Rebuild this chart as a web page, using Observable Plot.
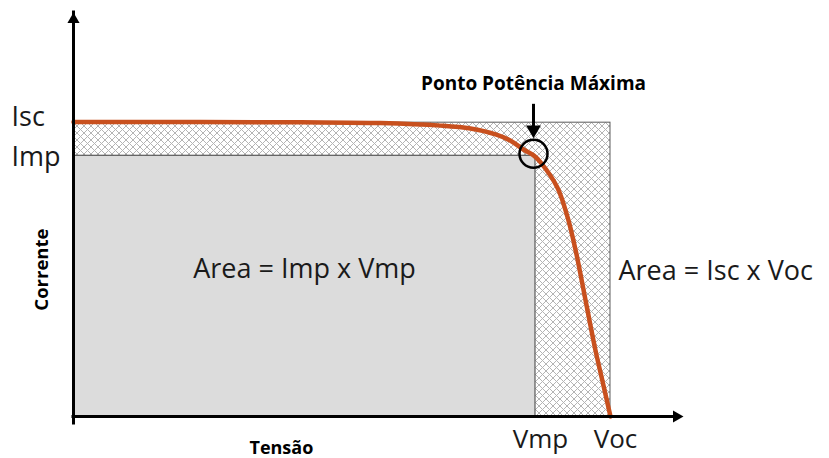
<!DOCTYPE html>
<html>
<head>
<meta charset="utf-8">
<script src="https://cdn.jsdelivr.net/npm/d3@7"></script>
<script src="https://cdn.jsdelivr.net/npm/@observablehq/plot@0.6"></script>
<style>
  html, body { margin: 0; padding: 0; background: white; }
  svg { display: block; }
</style>
</head>
<body>
<div id="chart"></div>
<script>
// Key values of the I-V curve (arbitrary units)
const Voc = 20.05;
const Vmp = 17.25;
const Isc = 8.0;
const Imp = 7.1;

// I-V curve points (voltage, current)
const curveV = [0, 4.74, 8.48, 11.46, 13.7, 14.82, 15.76, 16.32, 16.8, 17.18, 17.44, 18.07, 18.45, 18.75, 19.12, 19.49, 19.79, 20.05];
const curveI = [8.02, 8.02, 8.01, 7.99, 7.92, 7.84, 7.68, 7.51, 7.27, 7.11, 6.92, 6.23, 5.42, 4.52, 3.16, 1.80, 0.84, 0];

// Tick labels
const yTickLabels = ["Isc", "Imp"];
const yTickValues = [Isc, Imp];
const xTickLabels = ["Vmp", "Voc"];
const xTickValues = [Vmp, Voc];

// Text labels
const titleText = "Ponto Potência Máxima";
const xTitle = "Tensão";
const yTitle = "Corrente";
const areaMpText = "Area = Imp x Vmp";
const areaScText = "Area = Isc x Voc";

// Axis extents
const xMax = 23;
const yMax = 11;

const curve = curveV.map((v, i) => ({V: v, I: curveI[i]}));
const yTicks = yTickLabels.map((t, i) => ({t, I: yTickValues[i]}));
const xTicks = xTickLabels.map((t, i) => ({t, V: xTickValues[i]}));

const font = "'Open Sans', 'DejaVu Sans', sans-serif";

const chart = Plot.plot({
  width: 829,
  height: 458,
  marginLeft: 73,
  marginRight: 140,
  marginTop: 12,
  marginBottom: 42,
  x: {domain: [0, xMax], axis: null},
  y: {domain: [0, yMax], axis: null},
  style: {fontFamily: font, background: "white", overflow: "visible"},
  marks: [
    // hatched outer rectangle Isc x Voc
    Plot.rect([{x1: 0, x2: Voc, y1: 0, y2: Isc}], {
      x1: "x1", x2: "x2", y1: "y1", y2: "y2",
      fill: "url(#hatch)", stroke: "#5a5a5a", strokeWidth: 1
    }),
    // grey inner rectangle Imp x Vmp
    Plot.rect([{x1: 0, x2: Vmp, y1: 0, y2: Imp}], {
      x1: "x1", x2: "x2", y1: "y1", y2: "y2",
      fill: "#dcdcdc", stroke: "#3c3c3c", strokeWidth: 1
    }),
    // I-V curve
    Plot.line(curve, {
      x: "V", y: "I", stroke: "#c8501e", strokeWidth: 4.5,
      curve: "catmull-rom", strokeLinecap: "round"
    }),
    // axes
    Plot.ruleX([0], {y1: 0, y2: yMax, insetTop: 7, stroke: "black", strokeWidth: 3, strokeLinecap: "square"}),
    Plot.ruleY([0], {x1: 0, x2: xMax, insetRight: 13, stroke: "black", strokeWidth: 3, strokeLinecap: "square"}),
    Plot.dot([{V: 0, I: yMax}], {x: "V", y: "I", symbol: "triangle", r: 4.5, fill: "black", stroke: "none", dy: 7}),
    Plot.dot([{V: xMax, I: 0}], {x: "V", y: "I", symbol: "triangle", r: 4.5, fill: "black", stroke: "none", dx: -13, rotate: 90}),
    // maximum power point circle
    Plot.dot([{V: Vmp, I: Imp}], {x: "V", y: "I", r: 14, stroke: "black", strokeWidth: 2.5, fill: "none", dx: -2, dy: -2}),
    // pointer arrow
    Plot.ruleX([{V: Vmp, y1: Isc + 0.5, y2: Imp}], {x: "V", y1: "y1", y2: "y2", insetBottom: 28, stroke: "black", strokeWidth: 3, dx: -2}),
    Plot.dot([{V: Vmp, I: Imp}], {x: "V", y: "I", symbol: "triangle", r: 5.5, fill: "black", stroke: "none", dx: -2, dy: -26, rotate: 180}),
    // tick labels
    Plot.text(yTicks.slice(0, 1), {x: () => 0, y: "I", text: "t", textAnchor: "start", dx: -62, dy: -5, fontSize: 27, fill: "#1a1a1a"}),
    Plot.text(yTicks.slice(1), {x: () => 0, y: "I", text: "t", textAnchor: "start", dx: -62, dy: 2, fontSize: 27, fill: "#1a1a1a"}),
    Plot.text(xTicks, {x: "V", y: () => 0, text: "t", dx: 5, dy: 23, fontSize: 26, fill: "#1a1a1a"}),
    // axis titles
    Plot.text([xTitle], {x: () => Vmp * 0.45, y: () => 0, text: (d) => d, dy: 32, fontSize: 18, fontWeight: "bold", fill: "black"}),
    Plot.text([yTitle], {x: () => 0, y: () => Isc / 2, text: (d) => d, dx: -31, rotate: -90, fontSize: 18.5, fontWeight: "bold", fill: "black"}),
    // title
    Plot.text([titleText], {x: () => Vmp, y: () => Isc, text: (d) => d, dx: -2, dy: -39, fontSize: 19, fontWeight: "bold", fill: "black"}),
    // area labels
    Plot.text([areaMpText], {x: () => Vmp / 2, y: () => Isc / 2, text: (d) => d, fontSize: 27, fill: "#1a1a1a"}),
    Plot.text([areaScText], {x: () => Voc, y: () => Isc / 2, text: (d) => d, textAnchor: "start", dx: 8, dy: 2, fontSize: 27, fill: "#1a1a1a"})
  ]
});

// hatch pattern definition
const svg = d3.select(chart);
const defs = svg.insert("defs", ":first-child");
const pat = defs.append("pattern")
  .attr("id", "hatch")
  .attr("patternUnits", "userSpaceOnUse")
  .attr("width", 7)
  .attr("height", 7);
pat.append("rect").attr("width", 7).attr("height", 7).attr("fill", "white");
pat.append("path")
  .attr("d", "M-1,-1L8,8M8,-1L-1,8")
  .attr("stroke", "#b4b4b4")
  .attr("stroke-width", 1);

document.getElementById("chart").appendChild(chart);
</script>
</body>
</html>
